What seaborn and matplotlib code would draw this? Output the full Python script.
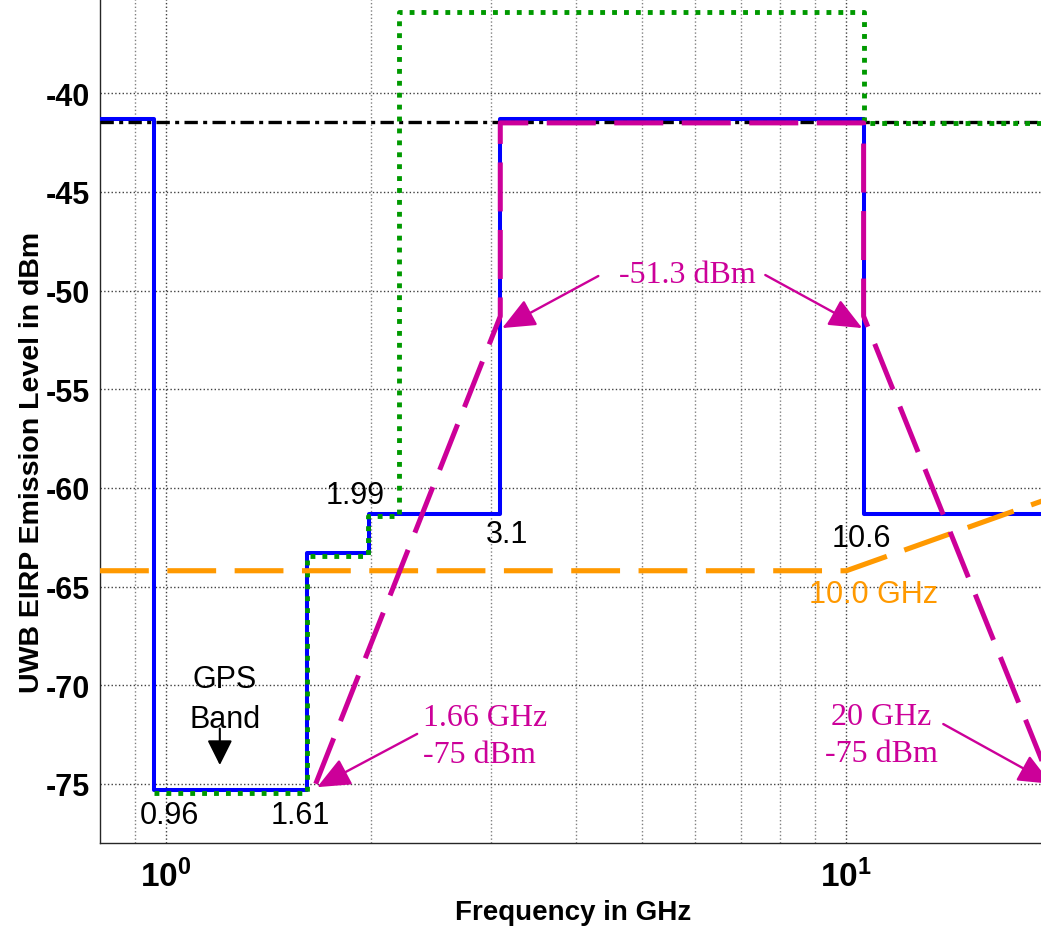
import matplotlib
matplotlib.use("Agg")
import matplotlib.pyplot as plt
import seaborn as sns
import pandas as pd
from matplotlib.ticker import FixedLocator, FixedFormatter, NullFormatter

# ---------------- data ----------------
blue_freq = [0.8, 0.96, 1.61, 1.99, 3.1, 10.6, 25.0]
blue_level = [-41.3, -75.3, -63.3, -61.3, -41.3, -61.3, -61.3]

green_freq = [0.96, 1.61, 1.98, 2.2, 10.6, 25.0]
green_level = [-75.45, -63.45, -61.4, -35.9, -41.5, -41.5]

ref_freq = [0.8, 25.0]
ref_level = [-41.45, -41.45]

mask_freq = [1.66, 3.1, 3.1, 10.6, 10.6, 20.0]
mask_level = [-75.0, -51.3, -41.5, -41.5, -51.3, -75.0]

orange_freq = [0.8, 10.0, 20.0]
orange_level = [-64.2, -64.2, -60.5]

x_major = [1, 10]
x_major_labels = [r"$\mathbf{10^{0}}$", r"$\mathbf{10^{1}}$"]
x_minor = [0.9, 2, 3, 4, 5, 6, 7, 8, 9, 20]
y_ticks = [-75, -70, -65, -60, -55, -50, -45, -40]

# ---------------- style ----------------
sns.set_theme(style="white")
plt.rcParams["font.family"] = ["Liberation Sans", "DejaVu Sans"]
plt.rcParams["mathtext.fontset"] = "custom"
plt.rcParams["mathtext.rm"] = "Liberation Sans"
plt.rcParams["mathtext.bf"] = "Liberation Sans:bold"
plt.rcParams["text.color"] = "black"
plt.rcParams["axes.labelcolor"] = "black"
plt.rcParams["xtick.color"] = "black"
plt.rcParams["ytick.color"] = "black"

fig = plt.figure(figsize=(10.41, 9.29), dpi=100)
ax = fig.add_axes([100 / 1041, 85 / 929, 941 / 1041, 844 / 929])

MAG = "#CC0099"
ORG = "#FF9900"
GRN = "#009900"
BLU = "#0000FF"

df_b = pd.DataFrame({"f": blue_freq, "l": blue_level})
df_g = pd.DataFrame({"f": green_freq, "l": green_level})
df_r = pd.DataFrame({"f": ref_freq, "l": ref_level})
df_m = pd.DataFrame({"f": mask_freq, "l": mask_level})
df_o = pd.DataFrame({"f": orange_freq, "l": orange_level})

sns.lineplot(data=df_b, x="f", y="l", ax=ax, color=BLU, lw=2.9,
             drawstyle="steps-post", estimator=None, sort=False, zorder=3)
sns.lineplot(data=df_r, x="f", y="l", ax=ax, color="black", lw=2.4,
             dashes=False, estimator=None, sort=False, zorder=4,
             linestyle=(0, (4, 1.6, 1.2, 1.6)))
sns.lineplot(data=df_g, x="f", y="l", ax=ax, color=GRN, lw=3.5,
             drawstyle="steps-post", estimator=None, sort=False, zorder=5,
             linestyle=(0, (1, 1.45)))
sns.lineplot(data=df_o, x="f", y="l", ax=ax, color=ORG, lw=3.7,
             estimator=None, sort=False, zorder=6,
             linestyle=(0, (9.5, 3.6)))
sns.lineplot(data=df_m, x="f", y="l", ax=ax, color=MAG, lw=3.6,
             estimator=None, sort=False, zorder=7,
             linestyle=(0, (9.8, 3.7)))

ax.set_xscale("log")
ax.set_xlim(0.8, 19.32)
ax.set_ylim(-78, -35.22)

ax.xaxis.set_major_locator(FixedLocator(x_major))
ax.xaxis.set_major_formatter(FixedFormatter(x_major_labels))
ax.xaxis.set_minor_locator(FixedLocator(x_minor))
ax.xaxis.set_minor_formatter(NullFormatter())
ax.yaxis.set_major_locator(FixedLocator(y_ticks))
ax.set_yticklabels([str(v) for v in y_ticks])

ax.grid(True, which="major", axis="both", ls=":", color="0.25", lw=1.0)
ax.grid(True, which="minor", axis="x", ls=":", color="0.5", lw=1.0)

for s in ["top", "right"]:
    ax.spines[s].set_visible(False)
for s in ["left", "bottom"]:
    ax.spines[s].set_color("0.15")
    ax.spines[s].set_linewidth(1.0)

ax.tick_params(axis="both", which="major", direction="in", length=7, width=1,
               color="0.15", labelsize=22, pad=7)
ax.tick_params(axis="x", which="minor", direction="in", length=4, width=1,
               color="0.3")
ax.tick_params(axis="x", which="major", pad=11, labelsize=24)
for lab in ax.get_yticklabels():
    lab.set_fontweight("bold")

ax.set_xlabel("Frequency in GHz", fontsize=20, fontweight="bold")
ax.set_ylabel("UWB EIRP Emission Level in dBm", fontsize=20.5, fontweight="bold")
ax.xaxis.set_label_coords(0.503, -0.066)
ax.yaxis.set_label_coords(-0.058, 0.452)

# ---------------- annotations ----------------
FS = 22
ax.text(1.716, -60.77, "1.99", fontsize=FS, ha="left", va="baseline", zorder=8)
ax.text(2.948, -62.76, "3.1", fontsize=FS, ha="left", va="baseline", zorder=8)
ax.text(9.52, -62.93, "10.6", fontsize=FS, ha="left", va="baseline", zorder=8)
ax.text(0.916, -76.98, "0.96", fontsize=FS, ha="left", va="baseline", zorder=8)
ax.text(1.424, -76.98, "1.61", fontsize=FS, ha="left", va="baseline", zorder=8)
ax.text(8.80, -65.80, "10.0 GHz", fontsize=FS, color=ORG, ha="left",
        va="baseline", zorder=8)
ax.text(1.22, -70.09, "GPS", fontsize=FS, ha="center", va="baseline", zorder=8)
ax.text(1.22, -72.12, "Band", fontsize=FS, ha="center", va="baseline", zorder=8)
ax.annotate("", xy=(1.20, -74.05), xytext=(1.20, -72.2),
            arrowprops=dict(arrowstyle="-|>,head_length=0.7,head_width=0.35",
                            color="black", lw=1.5, mutation_scale=22,
                            shrinkA=0, shrinkB=0), zorder=8)

SERIF = ["Liberation Serif", "DejaVu Serif"]
ax.text(5.83, -49.55, "-51.3 dBm", fontsize=23, color=MAG, family=SERIF,
        ha="center", va="baseline", zorder=8)
ax.text(2.39, -72.02, "1.66 GHz", fontsize=23, color=MAG, family=SERIF,
        ha="left", va="baseline", zorder=8)
ax.text(2.39, -73.90, "-75 dBm", fontsize=23, color=MAG, family=SERIF,
        ha="left", va="baseline", zorder=8)
ax.text(11.25, -71.97, "20 GHz", fontsize=23, color=MAG, family=SERIF,
        ha="center", va="baseline", zorder=8)
ax.text(11.25, -73.82, "-75 dBm", fontsize=23, color=MAG, family=SERIF,
        ha="center", va="baseline", zorder=8)

arrow_kw = dict(arrowstyle="-|>,head_length=0.6,head_width=0.26",
                color=MAG, lw=1.7, mutation_scale=34, shrinkA=0, shrinkB=0)
ax.annotate("", xy=(3.12, -51.9), xytext=(4.32, -49.26),
            arrowprops=arrow_kw, annotation_clip=False, zorder=8)
ax.annotate("", xy=(10.55, -51.9), xytext=(7.60, -49.21),
            arrowprops=arrow_kw, annotation_clip=False, zorder=8)
ax.annotate("", xy=(1.668, -75.17), xytext=(2.34, -72.47),
            arrowprops=arrow_kw, annotation_clip=False, zorder=8)
ax.annotate("", xy=(20.0, -75.0), xytext=(13.88, -71.97),
            arrowprops=arrow_kw, annotation_clip=False, zorder=8)

fig.savefig("out.png", dpi=100)
